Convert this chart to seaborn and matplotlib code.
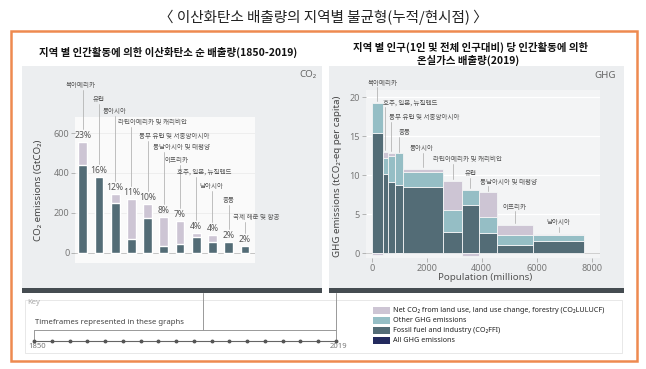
import numpy as np
import pandas as pd
import matplotlib
matplotlib.use("Agg")
import matplotlib.pyplot as plt
import seaborn as sns
from matplotlib.patches import Rectangle
from matplotlib.lines import Line2D

# cumulative net CO2 1850-2019 by region (GtCO2)
co2_regions = ["북아메리카", "유럽", "동아시아", "라틴아메리카 및 캐리비안", "동부 유럽 및 서중앙아시아",
               "동남아시아 및 태평양", "아프리카", "호주, 일본, 뉴질랜드", "남아시아", "중동", "국제 해운 및 항공"]
co2_total = [557, 378, 293, 268, 245, 178, 158, 100, 88, 53, 37]
co2_fossil = [438, 378, 252, 68, 177, 35, 43, 82, 57, 53, 37]
co2_share = ["23%", "16%", "12%", "11%", "10%", "8%", "7%", "4%", "4%", "2%", "2%"]

# GHG per capita 2019 (tCO2-eq) and population (millions)
ghg_regions = ["북아메리카", "호주, 일본, 뉴질랜드", "동부 유럽 및 서중앙아시아", "중동", "동아시아",
               "라틴아메리카 및 캐리비안", "유럽", "동남아시아 및 태평양", "아프리카", "남아시아"]
ghg_population = [400, 180, 280, 266, 1480, 667, 630, 667, 1310, 1840]
ghg_fossil = [15.4, 10.2, 9.1, 8.7, 8.5, 2.7, 6.2, 2.6, 1.1, 1.6]
ghg_other = [3.9, 2.0, 3.4, 4.1, 1.9, 2.9, 1.9, 2.0, 1.3, 0.8]
ghg_lulucf = [-0.2, 0.8, 0.4, 0.0, 0.4, 3.7, -0.4, 3.2, 1.2, 0.1]

legend_labels = ["Net CO\u2082 from land use, land use change, forestry (CO\u2082LULUCF)",
                 "Other GHG emissions", "Fossil fuel and industry (CO\u2082FFI)", "All GHG emissions"]

LILAC = "#cdc5d4"
TEAL = "#95bec5"
DARK = "#536c76"
NAVY = "#232a5e"
PANEL = "#eceef0"
KR = ["Noto Sans CJK KR", "DejaVu Sans"]
EN = ["Noto Sans", "DejaVu Sans"]

sns.set_theme(style="white")
plt.rcParams["font.family"] = KR

W, H = 646, 369
fig = plt.figure(figsize=(6.46, 3.69), dpi=100)
fig.patch.set_facecolor("white")


def fx(x):
    return x / W


def fy(y):
    return 1 - y / H


def box(x0, y0, x1, y1, **kw):
    fig.add_artist(Rectangle((fx(x0), fy(y1)), fx(x1) - fx(x0), fy(y0) - fy(y1),
                             transform=fig.transFigure, **kw))


def line(xs, ys, **kw):
    fig.add_artist(Line2D([fx(x) for x in xs], [fy(y) for y in ys],
                          transform=fig.transFigure, **kw))


def text(x, y, s, **kw):
    fig.text(fx(x), fy(y), s, **kw)


# frame, panels
box(11, 31, 637, 361, fill=False, edgecolor="#ee8a50", lw=1.8, zorder=-3)
box(22, 66, 322, 288, facecolor=PANEL, edgecolor="none", zorder=-5)
box(329, 66, 624, 288, facecolor=PANEL, edgecolor="none", zorder=-5)
box(22, 288, 322, 293, facecolor="#454c51", edgecolor="none", zorder=-4)
box(329, 288, 624, 293, facecolor="#454c51", edgecolor="none", zorder=-4)
box(25, 300, 622, 353, facecolor="white", edgecolor="#e4e4e4", lw=0.6, zorder=-4)

text(323, 17, "〈 이산화탄소 배출량의 지역별 불균형(누적/현시점) 〉", ha="center", va="center",
     fontsize=10.5, color="#222222")
text(168, 52, "지역 별 인간활동에 의한 이산화탄소 순 배출량(1850-2019)", ha="center", va="center",
     fontsize=7.5, fontweight="bold", color="#111111")
text(471, 47, "지역 별 인구(1인 및 전체 인구대비) 당 인간활동에 의한", ha="center", va="center",
     fontsize=7.5, fontweight="bold", color="#111111")
text(468, 60, "온실가스 배출량(2019)", ha="center", va="center",
     fontsize=7.5, fontweight="bold", color="#111111")
text(316, 75, "CO\u2082", ha="right", va="center", fontsize=7, color="#666666", family=EN)
text(616, 75, "GHG", ha="right", va="center", fontsize=7, color="#666666", family=EN)

# ---- left: cumulative CO2 bars
df_co2 = pd.DataFrame({"region": co2_regions, "total": co2_total, "fossil": co2_fossil})
ax1 = fig.add_axes([fx(75), fy(263), fx(255) - fx(75), fy(117) - fy(263)])
ax1.set_facecolor("#fafafa")
sns.barplot(data=df_co2, x="region", y="total", color=LILAC, width=0.54, saturation=1, ax=ax1)
sns.barplot(data=df_co2, x="region", y="fossil", color=DARK, width=0.54, saturation=1, ax=ax1)
ax1.set_xlim(-0.474, 10.62)
ax1.set_ylim(-50, 680)
ax1.set_yticks([0, 200, 400, 600])
ax1.set_xticks([])
ax1.set_xlabel("")
ax1.set_ylabel("")
ax1.tick_params(axis="y", left=True, length=3, width=0.6, color="#aaaaaa", labelsize=6.5,
                labelcolor="#777777", pad=1)
for lab in ax1.get_yticklabels():
    lab.set_family(EN)
for s in ax1.spines.values():
    s.set_visible(False)
ax1.axhline(0, color="#bbbbbb", lw=0.6, zorder=0)
for v in [200, 400, 600]:
    ax1.axhline(v, color="#ececec", lw=0.6, zorder=0)

co2_label_y = [840, 770, 710, 655, 585, 530, 465, 405, 335, 265, 180]
co2_label_dx = [-17, -6, -12, -13, -9, -11, -15, -19, -13, -6, -12]
for i, (name, tot, pct) in enumerate(zip(co2_regions, co2_total, co2_share)):
    ax1.annotate(pct, (i, tot), xytext=(0, 1.5), textcoords="offset points", ha="center",
                 va="bottom", fontsize=6.2, color="#555555", family=EN)
    ly = co2_label_y[i]
    ax1.text(i + co2_label_dx[i] / 16.23, ly, name, ha="left", va="center", fontsize=4.7,
             color="#555555", clip_on=False)
    ax1.plot([i, i], [ly - 25, tot + 65], color="#b5b5b5", lw=0.6, clip_on=False, zorder=1)

text(39, 190, "CO\u2082 emissions (GtCO\u2082)", rotation=90, ha="center", va="center",
     fontsize=7, color="#444444", family=EN)

# ---- right: per-capita GHG, bar width = population
pop = np.array(ghg_population, dtype=float)
left = np.concatenate([[0], np.cumsum(pop)[:-1]])
fossil = np.array(ghg_fossil)
other = np.array(ghg_other)
lulucf = np.array(ghg_lulucf)

ax2 = fig.add_axes([fx(366), fy(258), fx(600) - fx(366), fy(90) - fy(258)])
ax2.set_facecolor("#f3f4f5")
for v in [5, 10, 15, 20]:
    ax2.axhline(v, color="white", lw=0.9, zorder=0)
edge = dict(edgecolor="#f3f4f5", linewidth=0.6, align="edge")
ax2.bar(left, fossil, width=pop, color=DARK, zorder=2, **edge)
ax2.bar(left, other, width=pop, bottom=fossil, color=TEAL, zorder=2, **edge)
lu_bottom = np.where(lulucf > 0, fossil + other, 0)
ax2.bar(left, lulucf, width=pop, bottom=lu_bottom, color=LILAC, zorder=2, **edge)
ax2.set_xlim(-207, 8301)
ax2.set_ylim(-0.6, 20.94)
ax2.set_xticks([0, 2000, 4000, 6000, 8000])
ax2.set_yticks([0, 5, 10, 15, 20])
ax2.tick_params(left=True, bottom=True, length=3, width=0.6, color="#aaaaaa", labelsize=6.5,
                labelcolor="#777777", pad=1.5)
for lab in ax2.get_xticklabels() + ax2.get_yticklabels():
    lab.set_family(EN)
for k, s in ax2.spines.items():
    s.set_visible(False)
ax2.axhline(0, color="#c8c8c8", lw=0.6, zorder=1)

ghg_label_y = [21.9, 19.3, 17.5, 15.5, 13.5, 12.1, 10.3, 9.2, 6.0, 4.0]
ghg_label_dx = [-10, -2, -2.5, 0, -13, -19.5, -5.4, -8, -12.4, -12.7]
tops = fossil + other + np.clip(lulucf, 0, None)
for i, name in enumerate(ghg_regions):
    cx = left[i] + pop[i] / 2
    ly = ghg_label_y[i]
    ax2.text(cx + ghg_label_dx[i] * 36.36, ly, name, ha="left", va="center", fontsize=4.7,
             color="#555555", clip_on=False, zorder=4)
    ax2.plot([cx, cx], [ly - 0.6, tops[i] + 0.25], color="#b5b5b5", lw=0.6, clip_on=False,
             zorder=3)

text(485, 277, "Population (millions)", ha="center", va="center", fontsize=7,
     color="#555555", family=EN)
text(337, 176, "GHG emissions (tCO\u2082-eq per capita)", rotation=90, ha="center", va="center",
     fontsize=7, color="#444444", family=EN)

# ---- key
text(27, 302, "Key", ha="left", va="center", fontsize=5.5, color="#aaaaaa", family=EN)
text(35, 322, "Timeframes represented in these graphs", ha="left", va="center", fontsize=5.6,
     color="#444444", family=EN)
line([203, 203], [293, 329.5], color="#999999", lw=0.7)
line([336, 336], [293, 341], color="#999999", lw=0.7)
line([34, 336], [329.5, 329.5], color="#999999", lw=0.7)
line([34, 34], [329.5, 341], color="#999999", lw=0.7)
years = np.linspace(34, 336, 18)
line([34, 336], [340.5, 340.5], color="#666666", lw=0.8)
fig.add_artist(Line2D([fx(x) for x in years], [fy(340.5)] * len(years), transform=fig.transFigure,
                      ls="none", marker="o", ms=1.8, color="#555555"))
text(28, 347, "1850", ha="left", va="center", fontsize=5.5, color="#777777", family=EN)
text(330, 347, "2019", ha="left", va="center", fontsize=5.5, color="#777777", family=EN)

for k, (lab, col) in enumerate(zip(legend_labels, [LILAC, TEAL, DARK, NAVY])):
    yc = 310.7 + k * 10
    box(373, yc - 3.5, 390, yc + 3.5, facecolor=col, edgecolor="none")
    text(393, yc, lab, ha="left", va="center", fontsize=5.2, color="#222222", family=EN)

fig.savefig("out.png", dpi=100, facecolor="white")
